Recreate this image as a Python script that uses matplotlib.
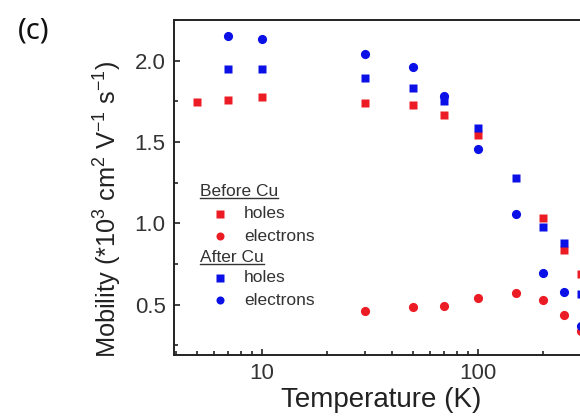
import matplotlib
matplotlib.use("Agg")
import matplotlib.pyplot as plt
from matplotlib.lines import Line2D
from matplotlib.ticker import MultipleLocator, LogLocator, NullFormatter, FixedLocator, FixedFormatter
import math

plt.rcParams['font.family'] = ['Liberation Sans', 'DejaVu Sans']
plt.rcParams['mathtext.default'] = 'regular'

# Data
T_before_holes = [5, 7, 10, 30, 50, 70, 100, 200, 250, 300]
mu_before_holes = [1.748, 1.758, 1.777, 1.740, 1.728, 1.666, 1.543, 1.030, 0.838, 0.689]

T_before_elec = [30, 50, 70, 100, 150, 200, 250, 300]
mu_before_elec = [0.463, 0.483, 0.494, 0.541, 0.574, 0.529, 0.437, 0.336]

T_after_holes = [7, 10, 30, 50, 70, 100, 150, 200, 250, 300]
mu_after_holes = [1.951, 1.951, 1.894, 1.832, 1.752, 1.584, 1.277, 0.975, 0.877, 0.566]

T_after_elec = [7, 10, 30, 50, 70, 100, 150, 200, 250, 300]
mu_after_elec = [2.149, 2.135, 2.041, 1.959, 1.783, 1.459, 1.055, 0.697, 0.580, 0.370]

xtick_vals = [10, 100]
xtick_labels = ['10', '100']
ytick_vals = [0.5, 1.0, 1.5, 2.0]
ytick_labels = ['0.5', '1.0', '1.5', '2.0']

RED = '#ec1c24'
BLUE = '#0a10e6'

W, H = 580, 419
fig = plt.figure(figsize=(W / 100, H / 100), dpi=100)

# axes extends beyond right figure edge (reference is cropped)
x0_px, top_px, bot_px = 174, 20, 355
xmin, xmax = 3.92, 1000.0
decade_px = 216.0
width_px = decade_px * math.log10(xmax / xmin)
height_px = bot_px - top_px
ax = fig.add_axes([x0_px / W, 1 - bot_px / H, width_px / W, height_px / H])
ax.set_xscale('log')
ax.set_xlim(xmin, xmax)
ax.set_ylim(0.19, 2.25)

ms_sq = 6.0
ms_ci = 6.6
ax.plot(T_before_holes, mu_before_holes, 's', color=RED, ms=ms_sq, mec='none', clip_on=False)
ax.plot(T_before_elec, mu_before_elec, 'o', color=RED, ms=ms_ci, mec='none', clip_on=False)
ax.plot(T_after_holes, mu_after_holes, 's', color=BLUE, ms=ms_sq, mec='none', clip_on=False)
ax.plot(T_after_elec, mu_after_elec, 'o', color=BLUE, ms=ms_ci, mec='none', clip_on=False)

ax.xaxis.set_major_locator(FixedLocator(xtick_vals))
ax.xaxis.set_major_formatter(FixedFormatter(xtick_labels))
ax.xaxis.set_minor_locator(LogLocator(base=10, subs=[2, 3, 4, 5, 6, 7, 8, 9]))
ax.xaxis.set_minor_formatter(NullFormatter())
ax.yaxis.set_major_locator(FixedLocator(ytick_vals))
ax.yaxis.set_major_formatter(FixedFormatter(ytick_labels))
ax.yaxis.set_minor_locator(MultipleLocator(0.25))

ax.tick_params(which='both', direction='in', top=False, right=False, width=1.2, colors='#222222')
ax.tick_params(which='major', length=4, labelsize=16, pad=6, labelcolor='#333333')
ax.tick_params(which='minor', length=3)
for s in ['left', 'bottom', 'top']:
    ax.spines[s].set_linewidth(1.4)
    ax.spines[s].set_color('#222222')
ax.spines['right'].set_visible(False)

ax.set_xlabel('Temperature (K)', fontsize=20, color='#222222')
ax.xaxis.set_label_coords((381 - x0_px) / width_px, -(387 - bot_px) / height_px)
ax.set_ylabel('Mobility (*10$^3$ cm$^2$ V$^{-1}$ s$^{-1}$)', fontsize=18.3, color='#222222')
ax.yaxis.set_label_coords(-(x0_px - 124) / width_px, (bot_px - 209) / height_px)

# panel label
fig.text(18 / W, 1 - 31 / H, '(c)', fontsize=21, family='Noto Sans', va='center', ha='left', color='#111111')

# manual legend
def fx(px):
    return px / W

def fy(py):
    return 1 - py / H

leg_fs = 12.5
hdr1 = fig.text(fx(200), fy(192), 'Before Cu', fontsize=leg_fs, va='center', ha='left', color='#333333')
hdr2 = fig.text(fx(200), fy(257), 'After Cu', fontsize=leg_fs, va='center', ha='left', color='#333333')
entries = [(214, 's', RED, 'holes'), (236, 'o', RED, 'electrons'),
           (278, 's', BLUE, 'holes'), (300, 'o', BLUE, 'electrons')]
for py, m, c, lab in entries:
    fig.add_artist(Line2D([fx(220)], [fy(py)], marker=m, color=c, ms=5.2 if m == 's' else 5.8,
                          mec='none', linestyle='none', transform=fig.transFigure))
    fig.text(fx(244), fy(py), lab, fontsize=leg_fs, va='center', ha='left', color='#333333')

fig.canvas.draw()
r = fig.canvas.get_renderer()
for t in (hdr1, hdr2):
    bb = t.get_window_extent(renderer=r)
    yb = bb.y0 + 1.0
    fig.add_artist(Line2D([bb.x0 / W, bb.x1 / W], [yb / H, yb / H], color='#333333', lw=1.0,
                          transform=fig.transFigure))

fig.savefig('out.png', dpi=100)
